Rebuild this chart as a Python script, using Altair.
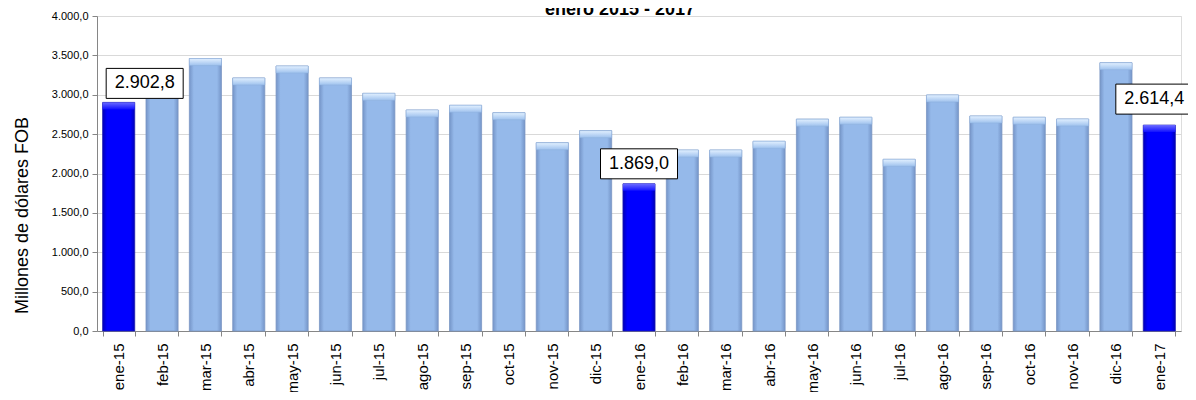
import json
import altair as alt
import pandas as pd

# ---- data ----
months = ["ene-15", "feb-15", "mar-15", "abr-15", "may-15", "jun-15", "jul-15",
          "ago-15", "sep-15", "oct-15", "nov-15", "dic-15", "ene-16", "feb-16",
          "mar-16", "abr-16", "may-16", "jun-16", "jul-16", "ago-16", "sep-16",
          "oct-16", "nov-16", "dic-16", "ene-17"]
values = [2902.8, 3040.0, 3460.0, 3213.0, 3365.0, 3213.0, 3018.0,
          2806.0, 2866.0, 2772.0, 2391.0, 2544.0, 1869.0, 2298.0,
          2298.0, 2409.0, 2690.0, 2714.0, 2180.0, 2997.0, 2730.0,
          2714.0, 2692.0, 3407.0, 2614.4]
highlight = ["ene-15", "ene-16", "ene-17"]
y_ticks = [0, 500, 1000, 1500, 2000, 2500, 3000, 3500, 4000]
title_text = "enero 2015  - 2017"
y_title = "Millones de dólares FOB"

FONT = "Liberation Sans"

df = pd.DataFrame({"mes": months, "valor": values})

es_fmt = ("replace(replace(replace(format({v}, ',.1f'), ',', '#'), '.', ','), '#', '.')")
hl_json = json.dumps(highlight)

X = alt.X(
    "mes:N", sort=months,
    scale=alt.Scale(paddingInner=0.26, paddingOuter=0.13),
    axis=alt.Axis(title=None, labelAngle=-90, labelFont=FONT, labelFontSize=15,
                  labelColor="black", labelPadding=7, tickBand="extent",
                  tickSize=5, tickColor="#868686", domainColor="#868686",
                  labelOverlap=False, grid=False),
)
Y = alt.Y(
    "valor:Q",
    scale=alt.Scale(domain=[0, 4000], nice=False),
    axis=alt.Axis(values=y_ticks, labelExpr=es_fmt.format(v="datum.value"),
                  labelFont=FONT, labelFontSize=11, labelColor="black",
                  labelPadding=4, tickSize=5, tickColor="#868686",
                  domainColor="#868686", gridColor="#d9d9d9",
                  title=y_title, titleFont=FONT, titleFontSize=18,
                  titleFontWeight="normal", titleColor="black",
                  titleX=-75, titleY=199, titleBaseline="middle"),
)
Y2 = alt.Y2("valor")

def hgrad(edge, mid):
    return alt.Gradient(gradient="linear", x1=0, x2=1, y1=0, y2=0, stops=[
        alt.GradientStop(color=edge, offset=0),
        alt.GradientStop(color=mid, offset=0.14),
        alt.GradientStop(color=mid, offset=0.86),
        alt.GradientStop(color=edge, offset=1)])

def vgrad(top, bottom):
    return alt.Gradient(gradient="linear", x1=0, x2=0, y1=0, y2=1, stops=[
        alt.GradientStop(color=top, offset=0),
        alt.GradientStop(color=bottom, offset=1)])

base = alt.Chart(df).transform_calculate(etiqueta=es_fmt.format(v="datum.valor"))
normal = base.transform_filter(f"indexof({hl_json}, datum.mes) < 0")
hl = base.transform_filter(f"indexof({hl_json}, datum.mes) >= 0")

bars_n = normal.mark_bar(color=hgrad("#7595c8", "#95b9ea"), stroke="#7b97c4",
                         strokeWidth=0.8).encode(x=X, y=Y)
caps_n = normal.mark_bar(color=vgrad("#e2f0ff", "#9fc2ee"), y2Offset=7,
                         stroke="#8fb0dc", strokeWidth=0.5).encode(x=X, y=Y, y2=Y2)
bars_h = hl.mark_bar(color=hgrad("#0000b8", "#0000ff"), stroke="#1a1ab0",
                     strokeWidth=0.8).encode(x=X, y=Y)
caps_h = hl.mark_bar(color=vgrad("#6a6aff", "#1010ff"), y2Offset=7,
                     strokeWidth=0).encode(x=X, y=Y, y2=Y2)

def label_layers(mes, dx, top, bottom):
    d = base.transform_filter(alt.datum.mes == mes)
    box = d.mark_bar(width=77, xOffset=dx, yOffset=top, y2Offset=bottom,
                     fill="white", stroke="black", strokeWidth=1).encode(
        x=X, y=Y, y2=Y2)
    txt = d.mark_text(dx=dx, dy=(top + bottom) / 2, font=FONT, fontSize=18,
                      color="black", align="center", baseline="middle").encode(
        x=X, y=Y, text="etiqueta:N")
    return [box, txt]

labels = (label_layers("ene-15", 26, -34, -4)
          + label_layers("ene-16", 0, -35, -5)
          + label_layers("ene-17", -5, -41, -11))

title = alt.Chart(pd.DataFrame({"t": [title_text]})).mark_text(
    font=FONT, fontSize=18, fontWeight="bold", color="black",
    align="center", baseline="alphabetic").encode(
    x=alt.value(523), y=alt.value(-1), text="t:N")

chart = alt.layer(bars_n, caps_n, bars_h, caps_h, *labels, title).properties(
    width=1084, height=315,
    autosize=alt.AutoSizeParams(type="none"),
    padding={"left": 89, "top": 8, "right": 7, "bottom": 61},
).configure_view(stroke=None).configure(background="white")

chart.save("out.html", embed_options={"renderer": "svg", "actions": False})
